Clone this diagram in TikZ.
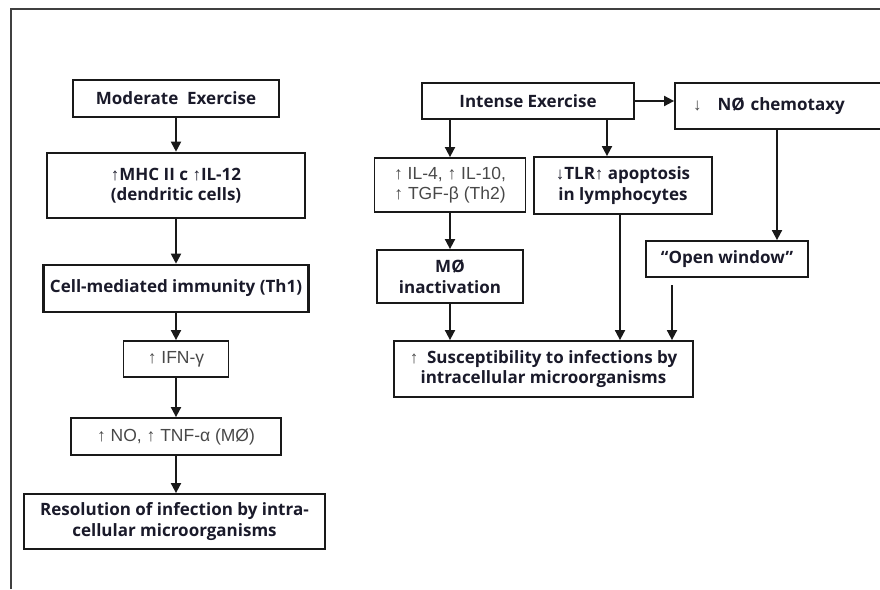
\documentclass[tikz,border=0pt]{standalone}
\usepackage{fontspec}
\setmainfont{Open Sans}
\newfontfamily\libfont{Liberation Sans}
\usetikzlibrary{arrows.meta}
\definecolor{txt}{HTML}{1A1A2A}
\definecolor{gtxt}{HTML}{484848}
\newcommand{\myup}{{\libfont ↑}}
\newcommand{\mydn}{{\libfont ↓}}
\begin{document}
\begin{tikzpicture}[x=1pt,y=-1pt,
  bx/.style={draw=black!90, line width=1.8pt, inner sep=0pt, align=center,
    font=\bfseries\fontsize{17}{20.5}\selectfont, text=txt},
  thk/.style={bx, line width=2.6pt},
  gr/.style={bx, font=\libfont\fontsize{17.5}{20}\selectfont, text=gtxt},
  arr/.style={line width=1.8pt, draw=black!90, -{Triangle[width=10pt,length=10pt]}}]
\useasboundingbox (0,0) rectangle (880,589);
\draw[line width=1.3pt, black!75] (11,589) -- (11,9) -- (880,9);
% left column
\node[bx, minimum width=206pt, minimum height=37pt] (mod) at (176,98.5) {Moderate\ \ Exercise};
\node[thk, minimum width=258pt, minimum height=65pt] (mhc) at (176,185.5) {\myup MHC II c \myup IL-12\\(dendritic cells)};
\node[thk, minimum width=265pt, minimum height=47pt] (cell) at (176,288.5) {Cell-mediated immunity (Th1)};
\node[gr, minimum width=105pt, minimum height=36pt] (ifn) at (176,359) {↑ IFN-γ};
\node[gr, minimum width=210pt, minimum height=37pt] (no) at (176,436.5) {↑ NO, ↑ TNF-α (MØ)};
\node[bx, minimum width=301pt, minimum height=55pt] (res) at (174.5,521.5) {Resolution of infection by intra-\\cellular microorganisms};
\draw[arr] (mod.south) -- (mhc.north);
\draw[arr] (mhc.south) -- (cell.north);
\draw[arr] (cell.south) -- (ifn.north);
\draw[arr] (ifn.south) -- (no.north);
\draw[arr] (no.south) -- (no.south |- res.north);
% right part
\node[bx, minimum width=212pt, minimum height=36pt] (int) at (528,101) {Intense Exercise};
\node[bx, minimum width=212pt, minimum height=46pt, text width=176pt, align=left] (nch) at (781,106) {\textcolor{gtxt}{\mydn}\hspace{16pt}NØ chemotaxy};
\node[gr, minimum width=151pt, minimum height=54pt] (il4) at (450,185) {↑ IL-4, ↑ IL-10,\\↑ TGF-β (Th2)};
\node[bx, minimum width=178pt, minimum height=57pt] (tlr) at (623,185.5) {\mydn TLR\myup\ apoptosis\\in lymphocytes};
\node[bx, minimum width=146pt, minimum height=53pt] (mo) at (450,276.5) {MØ\\inactivation};
\node[bx, minimum width=162pt, minimum height=36pt] (ow) at (727,259) {“Open window”};
\node[bx, minimum width=299pt, minimum height=56pt] (sus) at (543.5,369) {\textcolor{gtxt}{\myup}\ \ Susceptibility to infections by\\intracellular microorganisms};
\coordinate (owf) at (672,285);
\draw[arr] (int.east) -- (int.east -| nch.west);
\draw[arr] (int.south -| il4.north) -- (il4.north);
\draw[arr] ([xshift=-16pt]tlr.north |- int.south) -- ([xshift=-16pt]tlr.north);
\draw[arr] (il4.south) -- (mo.north);
\draw[arr] (mo.south) -- (mo.south |- sus.north);
\draw[arr] ([xshift=-3pt]tlr.south) -- ([xshift=-3pt]tlr.south |- sus.north);
\draw[arr] (owf) -- (owf |- sus.north);
\draw[arr] ([xshift=-4pt]nch.south) -- ([xshift=-4pt]nch.south |- ow.north);
\end{tikzpicture}
\end{document}
